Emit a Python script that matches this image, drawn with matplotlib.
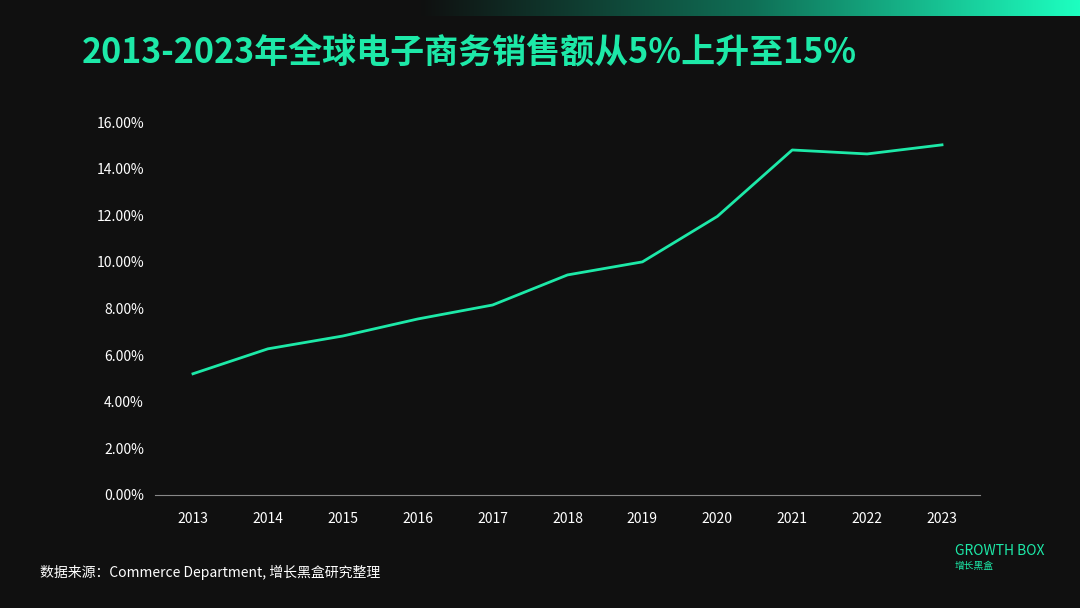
import matplotlib
matplotlib.use("Agg")
import matplotlib.pyplot as plt
import numpy as np
from matplotlib.colors import LinearSegmentedColormap

plt.rcParams['font.family'] = ['Noto Sans CJK SC', 'DejaVu Sans']

years = [2013, 2014, 2015, 2016, 2017, 2018, 2019, 2020, 2021, 2022, 2023]
share = [5.2, 6.27, 6.82, 7.55, 8.15, 9.44, 10.0, 11.95, 14.8, 14.63, 15.02]
yticks = [0, 2, 4, 6, 8, 10, 12, 14, 16]

W, H = 1080, 608
fig = plt.figure(figsize=(W/100, H/100), dpi=100)
fig.patch.set_facecolor('#101010')
green = '#1de9a8'

gax = fig.add_axes([420/W, 1-16/H, 660/W, 16/H])
grad = np.linspace(0, 1, 256)[None, :]
cm = LinearSegmentedColormap.from_list('g', ['#101010', '#0f6e55', '#1dffc0'])
gax.imshow(grad, aspect='auto', cmap=cm)
gax.axis('off')

ax = fig.add_axes([155/W, 1-495/H, 825/W, 373/H])
ax.set_facecolor('#101010')
ax.plot(years, share, color=green, lw=2)
ax.set_xlim(2013-0.507, 2023+0.507)
ax.set_ylim(0, 16)
ax.set_xticks(years)
ax.set_xticklabels([str(y) for y in years], color='white', fontsize=10)
ax.set_yticks(yticks)
ax.set_yticklabels([f'{v:.2f}%' for v in yticks], color='white', fontsize=10)
for s in ['top', 'right', 'left']:
    ax.spines[s].set_visible(False)
ax.spines['bottom'].set_color('#888888')
ax.tick_params(length=0, pad=12)
ax.tick_params(axis='y', pad=8)

fig.text(82/W, 1-52/H, '2013-2023年全球电子商务销售额从5%上升至15%', color=green,
         fontsize=24.5, fontweight='bold', va='center', ha='left')
fig.text(40/W, 1-572/H, '数据来源：Commerce Department, 增长黑盒研究整理', color='white',
         fontsize=10, style='italic', va='center', ha='left')
fig.text(955/W, 1-551/H, 'GROWTH BOX', color=green, fontsize=10, va='center', ha='left')
fig.text(955/W, 1-566/H, '增长黑盒', color=green, fontsize=7, va='center', ha='left')
fig.savefig('out.png', dpi=100, facecolor=fig.get_facecolor())
